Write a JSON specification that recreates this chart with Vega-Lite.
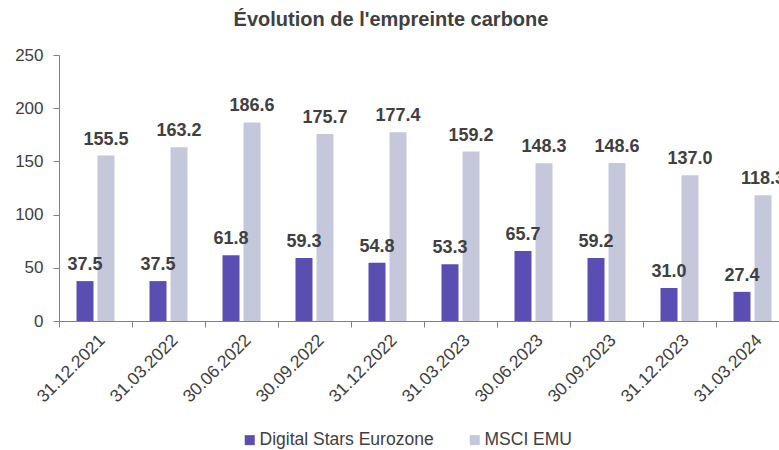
{
  "$schema": "https://vega.github.io/schema/vega-lite/v6.json",
  "autosize": {"type": "none"},
  "padding": {"left": 59, "top": 55, "right": 0, "bottom": 129},
  "width": 720,
  "height": 266,
  "title": {
    "text": "Évolution de l'empreinte carbone",
    "anchor": "middle",
    "dx": -28,
    "offset": 16,
    "font": "Liberation Sans",
    "fontSize": 20,
    "fontWeight": "bold",
    "color": "#404040"
  },
  "config": {
    "view": {"stroke": null},
    "font": "Liberation Sans"
  },
  "data": {
    "values": [
      {"date": "31.12.2021", "series": "Digital Stars Eurozone", "value": 37.5},
      {"date": "31.12.2021", "series": "MSCI EMU", "value": 155.5},
      {"date": "31.03.2022", "series": "Digital Stars Eurozone", "value": 37.5},
      {"date": "31.03.2022", "series": "MSCI EMU", "value": 163.2},
      {"date": "30.06.2022", "series": "Digital Stars Eurozone", "value": 61.8},
      {"date": "30.06.2022", "series": "MSCI EMU", "value": 186.6},
      {"date": "30.09.2022", "series": "Digital Stars Eurozone", "value": 59.3},
      {"date": "30.09.2022", "series": "MSCI EMU", "value": 175.7},
      {"date": "31.12.2022", "series": "Digital Stars Eurozone", "value": 54.8},
      {"date": "31.12.2022", "series": "MSCI EMU", "value": 177.4},
      {"date": "31.03.2023", "series": "Digital Stars Eurozone", "value": 53.3},
      {"date": "31.03.2023", "series": "MSCI EMU", "value": 159.2},
      {"date": "30.06.2023", "series": "Digital Stars Eurozone", "value": 65.7},
      {"date": "30.06.2023", "series": "MSCI EMU", "value": 148.3},
      {"date": "30.09.2023", "series": "Digital Stars Eurozone", "value": 59.2},
      {"date": "30.09.2023", "series": "MSCI EMU", "value": 148.6},
      {"date": "31.12.2023", "series": "Digital Stars Eurozone", "value": 31.0},
      {"date": "31.12.2023", "series": "MSCI EMU", "value": 137.0},
      {"date": "31.03.2024", "series": "Digital Stars Eurozone", "value": 27.4},
      {"date": "31.03.2024", "series": "MSCI EMU", "value": 118.3}
    ]
  },
  "encoding": {
    "x": {
      "field": "date",
      "type": "nominal",
      "sort": null,
      "scale": {"range": [0, 730], "paddingInner": 0, "paddingOuter": 0},
      "axis": {
        "title": null,
        "labelAngle": -45,
        "labelFontSize": 17.5,
        "labelColor": "#404040",
        "tickBand": "extent",
        "tickSize": 6,
        "tickColor": "#808080",
        "domainColor": "#808080",
        "labelPadding": 4
      }
    },
    "xOffset": {
      "field": "series",
      "type": "nominal",
      "scale": {"paddingInner": 0.19, "paddingOuter": 0.833}
    },
    "y": {
      "field": "value",
      "type": "quantitative",
      "scale": {"domain": [0, 250]},
      "axis": {
        "title": null,
        "values": [0, 50, 100, 150, 200, 250],
        "grid": false,
        "labelFontSize": 17,
        "labelColor": "#404040",
        "tickSize": 6,
        "tickColor": "#808080",
        "domainColor": "#808080",
        "labelPadding": 10
      }
    }
  },
  "layer": [
    {
      "mark": {"type": "bar"},
      "encoding": {
        "color": {
          "field": "series",
          "type": "nominal",
          "scale": {"domain": ["Digital Stars Eurozone", "MSCI EMU"], "range": ["#5B4EB3", "#C5C8DA"]},
          "legend": {
            "title": null,
            "orient": "none",
            "legendX": 182,
            "legendY": 376,
            "direction": "horizontal",
            "symbolType": "square",
            "symbolSize": 100,
            "symbolStrokeWidth": 0,
            "labelFontSize": 17.5,
            "labelColor": "#404040",
            "labelLimit": 0,
            "columnPadding": 32,
            "labelOffset": 1
          }
        }
      }
    },
    {
      "mark": {"type": "text", "dy": -11, "baseline": "alphabetic", "fontSize": 18, "fontWeight": "bold", "color": "#404040"},
      "encoding": {
        "text": {"field": "value", "type": "quantitative", "format": ".1f"}
      }
    }
  ]
}
